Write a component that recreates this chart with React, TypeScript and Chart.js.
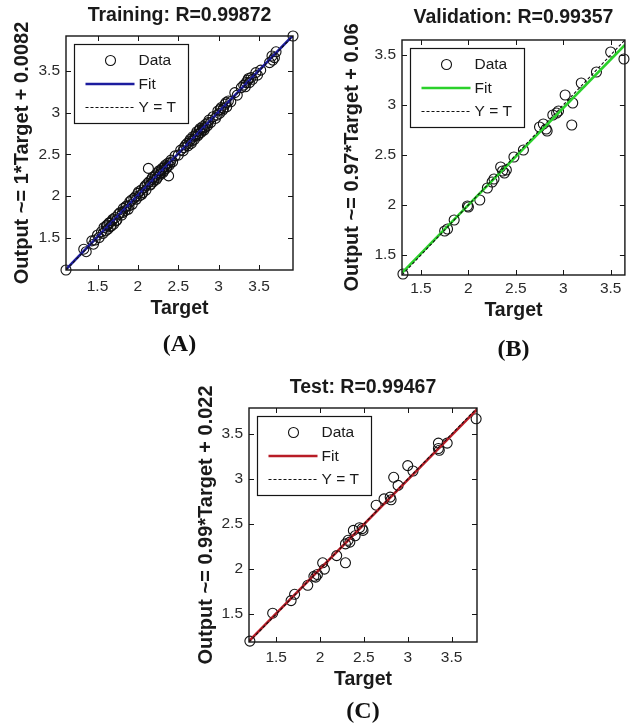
import React, { useEffect, useRef } from "react";
import { Chart, registerables } from "chart.js";

Chart.register(...registerables);
Chart.defaults.font.family = "'Liberation Sans', Arial, sans-serif";

// ---------- data ----------
const tickValues = [1.5, 2, 2.5, 3, 3.5];

// Training
const trainLimits = [1.11, 3.92];
const trainTarget = [1.11, 1.33, 1.36, 1.43, 1.45, 1.47, 1.52, 1.55, 1.58, 1.60, 1.62, 1.63, 1.65, 1.66, 1.68, 1.70, 1.72, 1.74, 1.78, 1.80, 1.82, 1.84, 1.86, 1.88, 1.90, 1.93, 1.95, 1.98, 2.00, 2.02, 2.04, 2.06, 2.08, 2.10, 2.12, 2.13, 2.15, 2.17, 2.19, 2.21, 2.23, 2.25, 2.27, 2.29, 2.31, 2.33, 2.35, 2.37, 2.38, 2.39, 2.41, 2.43, 2.46, 2.50, 2.53, 2.56, 2.59, 2.62, 2.64, 2.66, 2.68, 2.70, 2.72, 2.74, 2.76, 2.78, 2.80, 2.82, 2.84, 2.86, 2.88, 2.90, 2.93, 2.96, 2.99, 3.01, 3.03, 3.05, 3.08, 3.10, 3.12, 3.15, 3.20, 3.23, 3.28, 3.31, 3.33, 3.36, 3.38, 3.40, 3.46, 3.48, 3.52, 3.63, 3.66, 3.69, 3.71, 3.92,
  1.50, 1.57, 1.61, 1.64, 1.67, 1.69, 1.73, 1.76, 1.81, 1.85, 1.89, 1.92, 1.97, 2.01, 2.05, 2.09, 2.14, 2.16, 2.18, 2.20, 2.22, 2.24, 2.26, 2.28, 2.30, 2.32, 2.34, 2.36, 2.40, 2.57, 2.61, 2.65, 2.67, 2.71, 2.73, 2.75, 2.77, 2.79, 2.81, 2.83, 2.87, 2.98, 3.02, 3.06, 3.09, 3.34, 3.37, 3.42, 3.67];
const trainOutput = [1.11, 1.36, 1.33, 1.46, 1.42, 1.47, 1.50, 1.57, 1.62, 1.58, 1.65, 1.60, 1.68, 1.63, 1.70, 1.66, 1.74, 1.71, 1.80, 1.77, 1.85, 1.82, 1.88, 1.84, 1.93, 1.90, 1.97, 1.96, 2.03, 2.00, 2.07, 2.04, 2.10, 2.07, 2.15, 2.33, 2.13, 2.20, 2.17, 2.23, 2.20, 2.28, 2.25, 2.31, 2.28, 2.35, 2.33, 2.39, 2.24, 2.37, 2.43, 2.41, 2.48, 2.49, 2.55, 2.54, 2.61, 2.60, 2.66, 2.63, 2.71, 2.68, 2.74, 2.72, 2.79, 2.76, 2.83, 2.79, 2.86, 2.84, 2.91, 2.88, 2.95, 2.93, 3.02, 2.99, 3.06, 3.03, 3.10, 3.07, 3.14, 3.13, 3.24, 3.21, 3.30, 3.33, 3.31, 3.39, 3.36, 3.42, 3.48, 3.45, 3.51, 3.60, 3.68, 3.66, 3.73, 3.92,
  1.53, 1.55, 1.64, 1.67, 1.64, 1.72, 1.70, 1.78, 1.80, 1.87, 1.88, 1.95, 1.99, 2.05, 2.02, 2.12, 2.17, 2.14, 2.22, 2.19, 2.25, 2.22, 2.30, 2.27, 2.33, 2.30, 2.37, 2.35, 2.40, 2.58, 2.63, 2.68, 2.66, 2.72, 2.77, 2.74, 2.81, 2.78, 2.81, 2.82, 2.88, 2.97, 3.04, 3.05, 3.12, 3.36, 3.41, 3.40, 3.63];
const trainFitX = [1.11, 3.92];
const trainFitY = [1.118, 3.928];

// Validation
const valLimits = [1.30, 3.65];
const valTarget = [1.31, 1.75, 1.78, 1.85, 1.99, 2.00, 2.12, 2.20, 2.25, 2.27, 2.34, 2.36, 2.38, 2.40, 2.48, 2.58, 2.75, 2.79, 2.82, 2.83, 2.89, 2.93, 2.95, 3.02, 3.10, 3.09, 3.19, 3.35, 3.50, 3.64];
const valOutput = [1.31, 1.74, 1.76, 1.85, 1.99, 1.98, 2.05, 2.17, 2.23, 2.26, 2.38, 2.34, 2.32, 2.35, 2.48, 2.55, 2.78, 2.81, 2.76, 2.74, 2.90, 2.92, 2.94, 3.10, 3.02, 2.80, 3.22, 3.33, 3.53, 3.46];
const valFitX = [1.30, 3.65];
const valFitY = [1.321, 3.601];

// Test
const testLimits = [1.19, 3.79];
const testTarget = [1.20, 1.46, 1.67, 1.71, 1.86, 1.93, 1.95, 1.97, 2.03, 2.05, 2.19, 2.29, 2.29, 2.32, 2.34, 2.38, 2.40, 2.45, 2.48, 2.49, 2.64, 2.73, 2.80, 2.81, 2.84, 2.89, 3.00, 3.06, 3.35, 3.35, 3.36, 3.45, 3.78];
const testOutput = [1.20, 1.51, 1.65, 1.72, 1.82, 1.92, 1.91, 1.94, 2.07, 2.00, 2.15, 2.07, 2.28, 2.32, 2.30, 2.43, 2.37, 2.46, 2.45, 2.43, 2.71, 2.78, 2.80, 2.77, 3.02, 2.93, 3.15, 3.09, 3.34, 3.40, 3.32, 3.40, 3.67];
const testFitX = [1.19, 3.79];
const testFitY = [1.200, 3.774];

// ---------- styling / layout ----------
const SANS = "'Liberation Sans', Arial, sans-serif";
const SERIF = "'Liberation Serif', 'Times New Roman', serif";
const TEXT = "#1a1a1a";
const TICK = "#2a2a2a";

const framePlugin = {
  id: "matlabFrame",
  afterDraw(chart: any) {
    const { ctx, chartArea } = chart;
    const { left, top, right, bottom } = chartArea;
    const xs = chart.scales.x;
    const ys = chart.scales.y;
    ctx.save();
    ctx.strokeStyle = "#151515";
    ctx.lineWidth = 1;
    ctx.setLineDash([]);
    ctx.beginPath();
    xs.ticks.forEach((t: any) => {
      const px = Math.round(xs.getPixelForValue(t.value)) + 0.5;
      ctx.moveTo(px, bottom);
      ctx.lineTo(px, bottom - 5);
      ctx.moveTo(px, top);
      ctx.lineTo(px, top + 5);
    });
    ys.ticks.forEach((t: any) => {
      const py = Math.round(ys.getPixelForValue(t.value)) + 0.5;
      ctx.moveTo(left, py);
      ctx.lineTo(left + 5, py);
      ctx.moveTo(right, py);
      ctx.lineTo(right - 5, py);
    });
    ctx.stroke();
    ctx.lineWidth = 1.4;
    ctx.strokeRect(left, top, right - left, bottom - top);

    // legend box
    const lx = Math.round(left + 8) + 0.5;
    const ly = Math.round(top + 8) + 0.5;
    const lw = 114;
    const lh = 79;
    ctx.fillStyle = "#ffffff";
    ctx.fillRect(lx, ly, lw, lh);
    ctx.lineWidth = 1.2;
    ctx.strokeStyle = "#151515";
    ctx.strokeRect(lx, ly, lw, lh);
    chart.data.datasets.forEach((ds: any, i: number) => {
      const cy = ly + 16 + i * 23.5;
      ctx.save();
      if (ds.showLine === false) {
        ctx.beginPath();
        ctx.lineWidth = 1.1;
        ctx.strokeStyle = ds.borderColor;
        ctx.arc(lx + 36, cy, 5, 0, Math.PI * 2);
        ctx.stroke();
      } else {
        ctx.beginPath();
        ctx.lineWidth = ds.borderWidth;
        ctx.strokeStyle = ds.borderColor;
        ctx.setLineDash(ds.borderDash || []);
        ctx.moveTo(lx + 11, cy);
        ctx.lineTo(lx + 60, cy);
        ctx.stroke();
      }
      ctx.restore();
      ctx.fillStyle = TEXT;
      ctx.font = `15.5px ${SANS}`;
      ctx.textBaseline = "middle";
      ctx.textAlign = "left";
      ctx.fillText(ds.label, lx + 64, cy + 0.5);
    });
    ctx.restore();
  },
};

type PanelCfg = {
  left: number; top: number; width: number; height: number;
  title: string; yTitle: string; letter: string;
  target: number[]; output: number[]; fitX: number[]; fitY: number[]; limits: number[];
  fitColor: string;
  pad: { right: number; bottom: number };
  titlePad: { top: number; bottom: number };
  yWidth: number; yTitlePad: number;
  xHeight: number; xTickPad: number; xTitlePad: number;
  letterPad: number;
};

function Panel({ cfg }: { cfg: PanelCfg }) {
  const ref = useRef<HTMLCanvasElement | null>(null);
  useEffect(() => {
    if (!ref.current) return;
    const points = cfg.target.map((t, i) => ({ x: t, y: cfg.output[i] }));
    const fit = cfg.fitX.map((x, i) => ({ x, y: cfg.fitY[i] }));
    const ident = cfg.limits.map((v) => ({ x: v, y: v }));
    const [mn, mx] = cfg.limits;
    const tickFont = { family: SANS, size: 15.5, lineHeight: 1.2 };
    const chart = new Chart(ref.current, {
      type: "scatter",
      data: {
        datasets: [
          {
            label: "Data",
            data: points,
            showLine: false,
            pointStyle: "circle",
            pointRadius: 5,
            pointBorderWidth: 1.1,
            borderColor: "#111111",
            backgroundColor: "rgba(0,0,0,0)",
            pointBackgroundColor: "rgba(0,0,0,0)",
            pointBorderColor: "#111111",
            clip: false,
            order: 3,
          } as any,
          {
            label: "Fit",
            data: fit,
            showLine: true,
            pointRadius: 0,
            borderColor: cfg.fitColor,
            borderWidth: 2.6,
            order: 2,
          } as any,
          {
            label: "Y = T",
            data: ident,
            showLine: true,
            pointRadius: 0,
            borderColor: "#111111",
            borderWidth: 1.1,
            borderDash: [3, 2],
            order: 1,
          } as any,
        ],
      },
      options: {
        responsive: false,
        animation: false,
        events: [],
        layout: { padding: { left: 0, top: 0, right: cfg.pad.right, bottom: cfg.pad.bottom } },
        scales: {
          x: {
            type: "linear",
            min: mn,
            max: mx,
            afterBuildTicks: (s: any) => { s.ticks = tickValues.map((v) => ({ value: v })); },
            afterFit: (s: any) => { s.height = cfg.xHeight; },
            grid: { display: false, drawTicks: false },
            border: { display: false },
            ticks: { font: tickFont, color: TICK, padding: cfg.xTickPad, maxRotation: 0, autoSkip: false, callback: (v: any) => String(v) },
            title: { display: true, text: "Target", color: TEXT, font: { family: SANS, size: 19.5, weight: "bold", lineHeight: 1 }, padding: { top: 0, bottom: cfg.xTitlePad } },
          },
          y: {
            type: "linear",
            min: mn,
            max: mx,
            afterBuildTicks: (s: any) => { s.ticks = tickValues.map((v) => ({ value: v })); },
            afterFit: (s: any) => { s.width = cfg.yWidth; },
            grid: { display: false, drawTicks: false },
            border: { display: false },
            ticks: { font: tickFont, color: TICK, padding: 6, autoSkip: false, callback: (v: any) => String(v) },
            title: { display: true, text: cfg.yTitle, color: TEXT, font: { family: SANS, size: 20, weight: "bold", lineHeight: 1 }, padding: { top: cfg.yTitlePad, bottom: 0 } },
          },
        },
        plugins: {
          legend: { display: false },
          tooltip: { enabled: false },
          title: {
            display: true,
            text: cfg.title,
            fullSize: false,
            color: TEXT,
            font: { family: SANS, size: 19.5, weight: "bold", lineHeight: 1 },
            padding: { top: cfg.titlePad.top, bottom: cfg.titlePad.bottom },
          },
          subtitle: {
            display: true,
            text: cfg.letter,
            position: "bottom",
            fullSize: false,
            color: "#111111",
            font: { family: SERIF, size: 24, weight: "bold", lineHeight: 1 },
            padding: { top: cfg.letterPad, bottom: 0 },
          },
        },
      } as any,
      plugins: [framePlugin],
    });
    return () => chart.destroy();
  }, [cfg]);
  return (
    <canvas
      ref={ref}
      width={cfg.width}
      height={cfg.height}
      style={{ position: "absolute", left: cfg.left, top: cfg.top, width: cfg.width, height: cfg.height }}
    />
  );
}

const panels: PanelCfg[] = [
  {
    left: 0, top: 0, width: 320, height: 362,
    title: "Training: R=0.99872", yTitle: "Output ~= 1*Target + 0.0082", letter: "(A)",
    target: trainTarget, output: trainOutput, fitX: trainFitX, fitY: trainFitY, limits: trainLimits,
    fitColor: "#1c1c9e",
    pad: { right: 27, bottom: 5 },
    titlePad: { top: 6, bottom: 10.5 },
    yWidth: 66, yTitlePad: 12,
    xHeight: 55, xTickPad: 7, xTitlePad: 6.25,
    letterPad: 8,
  },
  {
    left: 330, top: 0, width: 301, height: 370,
    title: "Validation: R=0.99357", yTitle: "Output ~= 0.97*Target + 0.06", letter: "(B)",
    target: valTarget, output: valOutput, fitX: valFitX, fitY: valFitY, limits: valLimits,
    fitColor: "#2bd12b",
    pad: { right: 1, bottom: 8 },
    titlePad: { top: 8.25, bottom: 12.25 },
    yWidth: 72, yTitlePad: 12,
    xHeight: 53, xTickPad: 4, xTitlePad: 7.25,
    letterPad: 10,
  },
  {
    left: 180, top: 360, width: 320, height: 367,
    title: "Test: R=0.99467", yTitle: "Output ~= 0.99*Target + 0.022", letter: "(C)",
    target: testTarget, output: testOutput, fitX: testFitX, fitY: testFitY, limits: testLimits,
    fitColor: "#b81c26",
    pad: { right: 23, bottom: 3 },
    titlePad: { top: 18.25, bottom: 10.25 },
    yWidth: 69, yTitlePad: 16,
    xHeight: 54, xTickPad: 6, xTitlePad: 6.25,
    letterPad: 4,
  },
];

export default function App() {
  return (
    <div style={{ position: "absolute", left: 0, top: 0, width: 631, height: 727, background: "#ffffff", overflow: "hidden" }}>
      {panels.map((p) => (
        <Panel key={p.letter} cfg={p} />
      ))}
    </div>
  );
}
